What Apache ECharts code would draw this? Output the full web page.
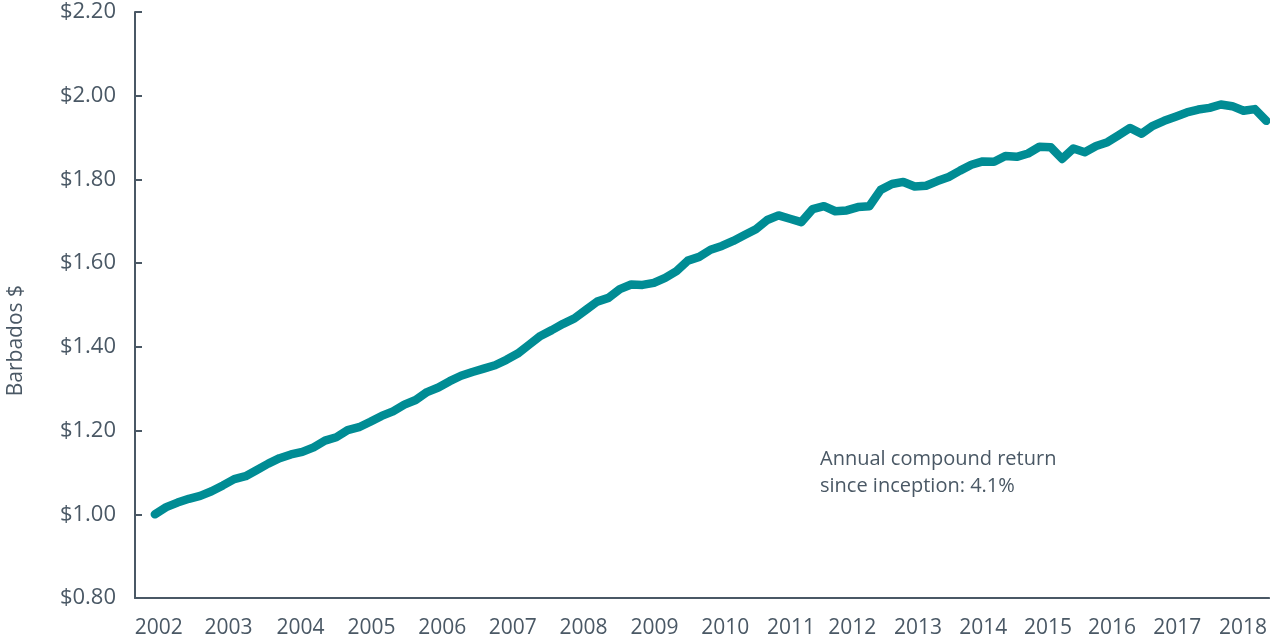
<!DOCTYPE html>
<html>
<head>
<meta charset="utf-8">
<script src="https://cdn.jsdelivr.net/npm/echarts@6/dist/echarts.min.js"></script>
<style>
html,body{margin:0;padding:0;background:#ffffff;}
#chart{width:1270px;height:639px;}
</style>
</head>
<body>
<div id="chart"></div>
<script>
// Months since January 2002 (every second month)
const months = [0,2,4,6,8,10,12,14,16,18,20,22,24,26,28,30,32,34,36,38,40,42,44,46,48,50,52,54,56,58,60,62,64,66,68,70,72,74,76,78,80,82,84,86,88,90,92,94,96,98,100,102,104,106,108,110,112,114,116,118,120,122,124,126,128,130,132,134,136,138,140,142,144,146,148,150,152,154,156,158,160,162,164,166,168,170,172,174,176,178,180,182,184,186,188,190,192,194,196];

// Growth of Barbados $1
const values = [1.000,1.017,1.028,1.037,1.044,1.055,1.069,1.084,1.091,1.106,
1.121,1.134,1.143,1.149,1.160,1.176,1.184,1.201,1.208,1.221,
1.235,1.246,1.262,1.273,1.292,1.303,1.318,1.331,1.340,1.348,
1.356,1.369,1.384,1.405,1.426,1.440,1.455,1.468,1.488,1.508,
1.517,1.538,1.549,1.548,1.553,1.565,1.581,1.606,1.615,1.632,
1.641,1.653,1.667,1.681,1.703,1.714,1.706,1.698,1.729,1.736,
1.724,1.726,1.734,1.736,1.775,1.789,1.794,1.783,1.785,1.796,
1.806,1.821,1.835,1.843,1.842,1.856,1.854,1.862,1.878,1.877,
1.849,1.874,1.865,1.880,1.889,1.906,1.923,1.909,1.928,1.940,
1.950,1.960,1.967,1.971,1.979,1.975,1.964,1.968,1.940];

// Year tick labels and where they sit along the month axis
const tickLabels = ['2002','2003','2004','2005','2006','2007','2008','2009','2010','2011','2012','2013','2014','2015','2016','2017','2018'];
const tickPositions = [0.7,13.0,25.7,38.2,50.7,63.1,75.6,88.1,100.6,112.2,123.0,134.6,146.1,157.5,168.8,180.3,191.9];

const yMin = 0.8, yMax = 2.2, yStep = 0.2;
const yAxisTitle = 'Barbados $';
const noteLines = ['Annual compound return', 'since inception: 4.1%'];

const textColor = '#4a5865';
const axisColor = '#4a5865';
const lineColor = '#008c94';
const font = 'Open Sans';

const chart = echarts.init(document.getElementById('chart'), null, {renderer: 'canvas'});
const option = {
  backgroundColor: '#ffffff',
  animation: false,
  grid: {left: 135, right: 0, top: 12, bottom: 41, containLabel: false},
  xAxis: {
    type: 'value',
    min: -3.5,
    max: 196.5,
    splitLine: {show: false},
    axisLine: {show: true, onZero: false, lineStyle: {color: axisColor, width: 2}},
    axisTick: {show: false},
    axisLabel: {
      customValues: tickPositions,
      color: textColor,
      fontFamily: font,
      fontSize: 21,
      margin: 20,
      formatter: function (v) {
        let best = 0, bd = Infinity;
        tickPositions.forEach(function (p, i) { const d = Math.abs(p - v); if (d < bd) { bd = d; best = i; } });
        return tickLabels[best];
      }
    }
  },
  yAxis: {
    type: 'value',
    min: yMin,
    max: yMax,
    interval: yStep,
    splitLine: {show: false},
    axisLine: {show: true, onZero: false, lineStyle: {color: axisColor, width: 2}},
    axisTick: {show: true, inside: true, length: 7, lineStyle: {color: axisColor, width: 2}},
    axisLabel: {
      color: textColor,
      fontFamily: font,
      fontSize: 22,
      margin: 19,
      formatter: function (v) { return '$' + v.toFixed(2); }
    }
  },
  series: [{
    type: 'line',
    data: months.map(function (m, i) { return [m, values[i]]; }),
    showSymbol: false,
    symbol: 'none',
    clip: false,
    lineStyle: {color: lineColor, width: 8.5, cap: 'round', join: 'round'}
  }],
  graphic: [
    {
      type: 'text',
      left: 6,
      top: 285,
      rotation: Math.PI / 2,
      style: {
        text: yAxisTitle,
        fill: textColor,
        font: '21px "Open Sans"'
      }
    },
    {
      type: 'text',
      left: 820,
      top: 446,
      style: {
        text: noteLines.join('\n'),
        fill: textColor,
        font: '20px "Open Sans"',
        lineHeight: 27
      }
    }
  ]
};
chart.setOption(option);
</script>
</body>
</html>
